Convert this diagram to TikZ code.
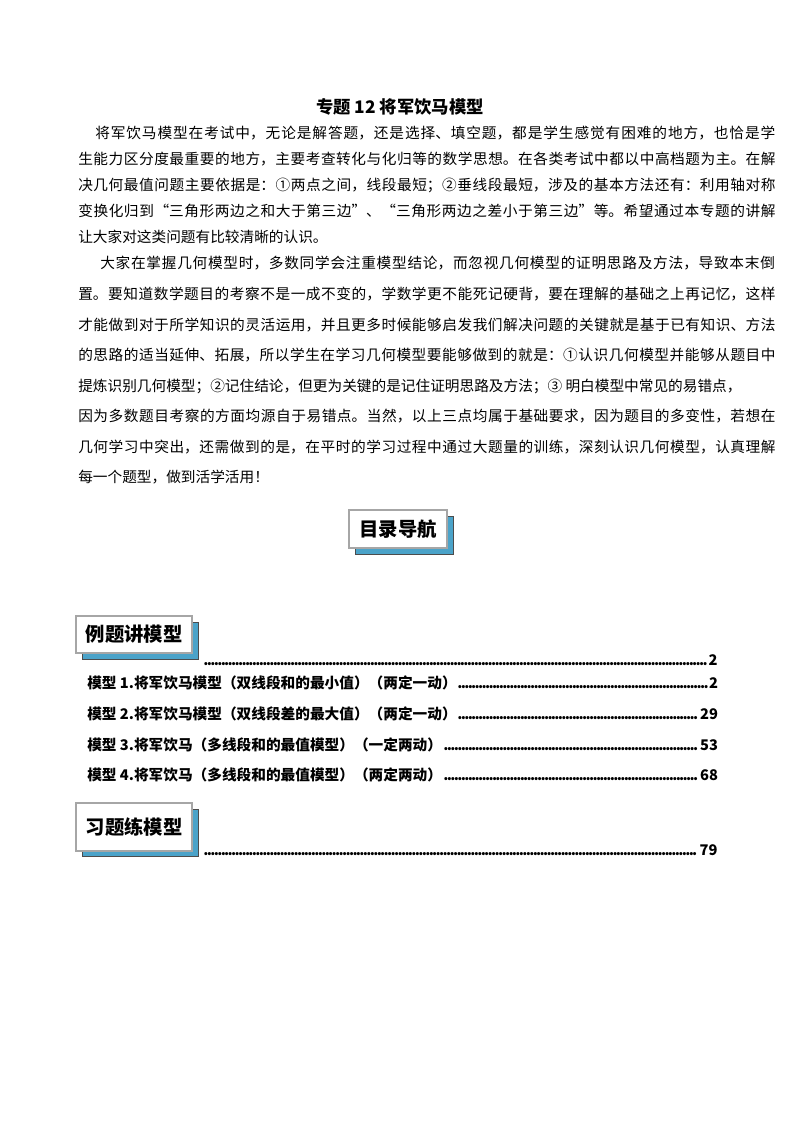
\documentclass[tikz,border=0pt]{standalone}
\usepackage{fontspec}
\setmainfont{Noto Sans CJK SC}
\XeTeXlinebreaklocale "zh"
\XeTeXlinebreakskip=0pt plus 4pt
\definecolor{shadowblue}{HTML}{4BA3C9}
\newcommand{\jline}[2]{\parbox{#1}{\parfillskip=0pt\relax\noindent #2}}
\newcommand{\dleader}{\leaders\hbox to 2.6pt{\hss.\hss}\hfill}
\newcommand{\tocline}[2]{\parbox{473pt}{\noindent\bfseries #1\dleader #2}}
\tikzset{
  body/.style={anchor=west,inner sep=0pt,font=\fontsize{11pt}{13pt}\selectfont},
  toc/.style={anchor=west,inner sep=0pt,font=\fontsize{11pt}{13pt}\selectfont},
  headbox/.style={draw=gray!70,fill=white,line width=0.8pt},
  shadowbox/.style={draw=black!70,fill=shadowblue,line width=0.6pt},
  headtext/.style={font=\fontsize{14.5pt}{16pt}\selectfont\bfseries,inner sep=0pt}
}
\begin{document}
\begin{tikzpicture}[x=0.75pt,y=-0.75pt]
\useasboundingbox (0,0) rectangle (800,1132);
\fill[white] (0,0) rectangle (800,1132);
\node[inner sep=0pt,font=\fontsize{13pt}{15pt}\selectfont\bfseries] (title) at (400,107) {专题 12 将军饮马模型};
% paragraph 1
\node[body] (p1a) at (95,133) {\jline{510pt}{将军饮马模型在考试中，无论是解答题，还是选择、填空题，都是学生感觉有困难的地方，也恰是学}};
\node[body] (p1b) at (78,159) {\jline{523pt}{生能力区分度最重要的地方，主要考查转化与化归等的数学思想。在各类考试中都以中高档题为主。在解}};
\node[body] (p1c) at (78,185) {\jline{523pt}{决几何最值问题主要依据是：①两点之间，线段最短；②垂线段最短，涉及的基本方法还有：利用轴对称}};
\node[body] (p1d) at (78,211) {\jline{523pt}{变换化归到“三角形两边之和大于第三边”、“三角形两边之差小于第三边”等。希望通过本专题的讲解}};
\node[body] (p1e) at (78,237) {让大家对这类问题有比较清晰的认识。};
% paragraph 2
\node[body] (p2a) at (100,263) {\jline{506pt}{大家在掌握几何模型时，多数同学会注重模型结论，而忽视几何模型的证明思路及方法，导致本末倒}};
\node[body] (p2b) at (78,294) {\jline{523pt}{置。要知道数学题目的考察不是一成不变的，学数学更不能死记硬背，要在理解的基础之上再记忆，这样}};
\node[body] (p2c) at (78,325) {\jline{523pt}{才能做到对于所学知识的灵活运用，并且更多时候能够启发我们解决问题的关键就是基于已有知识、方法}};
\node[body] (p2d) at (78,355) {\jline{523pt}{的思路的适当延伸、拓展，所以学生在学习几何模型要能够做到的就是：①认识几何模型并能够从题目中}};
\node[body] (p2e) at (78,386) {提炼识别几何模型；②记住结论，但更为关键的是记住证明思路及方法；③ 明白模型中常见的易错点，};
\node[body] (p2f) at (78,416) {\jline{523pt}{因为多数题目考察的方面均源自于易错点。当然，以上三点均属于基础要求，因为题目的多变性，若想在}};
\node[body] (p2g) at (78,447) {\jline{523pt}{几何学习中突出，还需做到的是，在平时的学习过程中通过大题量的训练，深刻认识几何模型，认真理解}};
\node[body] (p2h) at (78,477) {每一个题型，做到活学活用！};
% heading boxes
\draw[shadowbox] (355,516) rectangle (453,554);
\draw[headbox] (349,510) rectangle (447,548);
\node[headtext] (mulu) at (398,529) {目录导航};
\draw[shadowbox] (82,622) rectangle (198,659);
\draw[headbox] (76,616) rectangle (192,653);
\node[headtext] (liti) at (134,634.5) {例题讲模型};
\draw[shadowbox] (82,809) rectangle (198,856);
\draw[headbox] (76,803) rectangle (192,851);
\node[headtext] (xiti) at (134,827) {习题练模型};
% toc
\node[toc] (t0) at (204,660) {\parbox{385pt}{\noindent\bfseries\dleader 2}};
\node[toc] (t1) at (87,683) {\tocline{模型 1.将军饮马模型（双线段和的最小值）（两定一动）}{2}};
\node[toc] (t2) at (87,714) {\tocline{模型 2.将军饮马模型（双线段差的最大值）（两定一动）}{29}};
\node[toc] (t3) at (87,745) {\tocline{模型 3.将军饮马（多线段和的最值模型）（一定两动）}{53}};
\node[toc] (t4) at (87,775) {\tocline{模型 4.将军饮马（多线段和的最值模型）（两定两动）}{68}};
\node[toc] (t5) at (204,850) {\parbox{385pt}{\noindent\bfseries\dleader 79}};
\end{tikzpicture}
\end{document}
